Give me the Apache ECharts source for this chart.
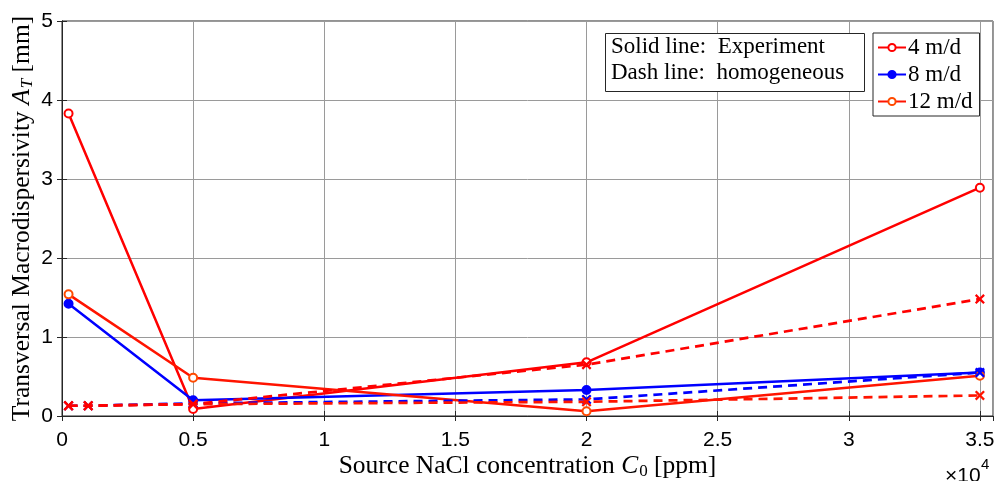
<!DOCTYPE html>
<html>
<head>
<meta charset="utf-8">
<script src="https://cdn.jsdelivr.net/npm/echarts@6/dist/echarts.min.js"></script>
<style>html,body{margin:0;padding:0;background:#fff}#c{width:997px;height:481px}</style>
</head>
<body>
<div id="c"></div>
<script>
// ---- data ----
const xExp = [250, 5000, 20000, 35000];
const exp4 = [3.83, 0.09, 0.68, 2.89];
const exp8 = [1.42, 0.20, 0.33, 0.55];
const exp12 = [1.54, 0.485, 0.06, 0.51];
const xHom = [250, 1000, 5000, 20000, 35000];
const hom4 = [0.13, 0.13, 0.15, 0.65, 1.48];
const hom8 = [0.13, 0.13, 0.16, 0.21, 0.55];
const hom12 = [0.13, 0.13, 0.15, 0.18, 0.26];
const seriesNames = ['4 m/d', '8 m/d', '12 m/d'];
const xTickLabels = {0:'0',5000:'0.5',10000:'1',15000:'1.5',20000:'2',25000:'2.5',30000:'3',35000:'3.5'};
const yTickLabels = ['0','1','2','3','4','5'];
const noteLines = ['Solid line:  Experiment', 'Dash line:  homogeneous'];

const pair = (xs, ys) => xs.map((x, i) => [x, ys[i]]);
const RED = '#ff0000', BLUE = '#0000ff', RED2 = '#ff1400', ORANGE = '#ff4a00';
const XMARK = 'path://M0,1.6L1.6,0L5,3.4L8.4,0L10,1.6L6.6,5L10,8.4L8.4,10L5,6.6L1.6,10L0,8.4L3.4,5Z';
const serif = 'Liberation Serif';
const sans = 'Liberation Sans';

function solid(name, xs, ys, color, mcolor, sym, z) {
  return {
    name, type: 'line', data: pair(xs, ys), z,
    symbol: sym, symbolSize: 8, showSymbol: true,
    lineStyle: { color, width: 2.5 },
    itemStyle: { color: mcolor, borderColor: mcolor, borderWidth: 2 },
    emphasis: { disabled: true }, animation: false
  };
}
function dashed(name, xs, ys, color, z) {
  return {
    name: name + ' hom', type: 'line', data: pair(xs, ys), z,
    symbol: XMARK, symbolSize: 10,
    lineStyle: { color, width: 2.7, type: [9, 6] },
    itemStyle: { color, borderWidth: 0 },
    emphasis: { disabled: true }, animation: false
  };
}

const chart = echarts.init(document.getElementById('c'), null, { renderer: 'canvas' });
chart.setOption({
  animation: false,
  backgroundColor: '#fff',
  grid: { left: 62, right: 4, top: 21, bottom: 65, show: true, borderColor: '#262626', borderWidth: 1,
          containLabel: false, outerBoundsMode: 'none' },
  xAxis: [{
    type: 'value', min: 0, max: 35500, interval: 5000,
    name: '{n|Source NaCl concentration }{i|C}{s|0}{n| [ppm]}',
    nameLocation: 'middle', nameGap: 36, nameMoveOverlap: false,
    nameTextStyle: {
      rich: {
        n: { fontFamily: serif, fontSize: 25.5, color: '#000' },
        i: { fontFamily: serif, fontSize: 25.5, fontStyle: 'italic', color: '#000' },
        s: { fontFamily: serif, fontSize: 17, color: '#000', padding: [11, 0, 0, 1] }
      }
    },
    axisLine: { show: true, onZero: false, lineStyle: { color: '#262626', width: 1 } },
    axisTick: { show: true, inside: true, length: 5, lineStyle: { color: '#262626' } },
    axisLabel: {
      fontFamily: sans, fontSize: 21, color: '#000', margin: 14, showMaxLabel: false,
      formatter: v => (xTickLabels[v] !== undefined ? xTickLabels[v] : '')
    },
    splitLine: { show: true, lineStyle: { color: '#9a9a9a', width: 1 } }
  }, {
    type: 'value', min: 0, max: 35500, interval: 5000, position: 'top',
    axisLine: { show: true, lineStyle: { color: '#262626', width: 1 } },
    axisTick: { show: true, inside: true, length: 5, lineStyle: { color: '#262626' } },
    axisLabel: { show: false }, splitLine: { show: false }
  }],
  yAxis: [{
    type: 'value', min: 0, max: 5, interval: 1,
    name: '{n|Transversal Macrodispersivity }{i|A}{s|T}{n| [mm]}',
    nameLocation: 'middle', nameGap: 26, nameRotate: 90, nameMoveOverlap: false,
    nameTextStyle: {
      rich: {
        n: { fontFamily: serif, fontSize: 25.5, color: '#000' },
        i: { fontFamily: serif, fontSize: 25.5, fontStyle: 'italic', color: '#000' },
        s: { fontFamily: serif, fontSize: 17, fontStyle: 'italic', color: '#000', padding: [11, 0, 0, 1] }
      }
    },
    axisLine: { show: true, lineStyle: { color: '#262626', width: 1 } },
    axisTick: { show: true, inside: true, length: 5, lineStyle: { color: '#262626' } },
    axisLabel: { fontFamily: sans, fontSize: 21, color: '#000', margin: 9,
      formatter: v => yTickLabels[Math.round(v)] },
    splitLine: { show: true, lineStyle: { color: '#9a9a9a', width: 1 } }
  }, {
    type: 'value', min: 0, max: 5, interval: 1, position: 'right',
    axisLine: { show: true, lineStyle: { color: '#262626', width: 1 } },
    axisTick: { show: true, inside: true, length: 5, lineStyle: { color: '#262626' } },
    axisLabel: { show: false }, splitLine: { show: false }
  }],
  legend: {
    data: seriesNames,
    orient: 'vertical', left: 873, top: 33,
    backgroundColor: '#fff', borderColor: '#262626', borderWidth: 1,
    padding: [1, 7, 1, 4], itemGap: 0, itemWidth: 28, itemHeight: 9,
    textStyle: { fontFamily: serif, fontSize: 23, color: '#000', lineHeight: 27, padding: [0, 0, 0, -3] },
    selectedMode: false
  },
  graphic: [
    { type: 'rect', left: 605, top: 33, z: 100,
      shape: { width: 259, height: 58 },
      style: { fill: '#fff', stroke: '#262626', lineWidth: 1 } },
    { type: 'text', left: 611, top: 34, z: 101,
      style: { text: noteLines.join('\n'), fontFamily: serif, fontSize: 23, lineHeight: 26, fill: '#000' } },
    { type: 'text', left: 945, top: 466, z: 101,
      style: { text: '\u00d710', fontFamily: sans, fontSize: 21, fill: '#000' } },
    { type: 'text', left: 981, top: 457, z: 101,
      style: { text: '4', fontFamily: sans, fontSize: 15, fill: '#000' } }
  ],
  series: [
    solid(seriesNames[0], xExp, exp4, RED, RED, 'emptyCircle', 3),
    solid(seriesNames[1], xExp, exp8, BLUE, BLUE, 'circle', 4),
    solid(seriesNames[2], xExp, exp12, RED2, ORANGE, 'emptyCircle', 5),
    dashed(seriesNames[1], xHom, hom8, BLUE, 6),
    dashed(seriesNames[2], xHom, hom12, RED2, 7),
    dashed(seriesNames[0], xHom, hom4, RED, 8)
  ]
});
</script>
</body>
</html>
